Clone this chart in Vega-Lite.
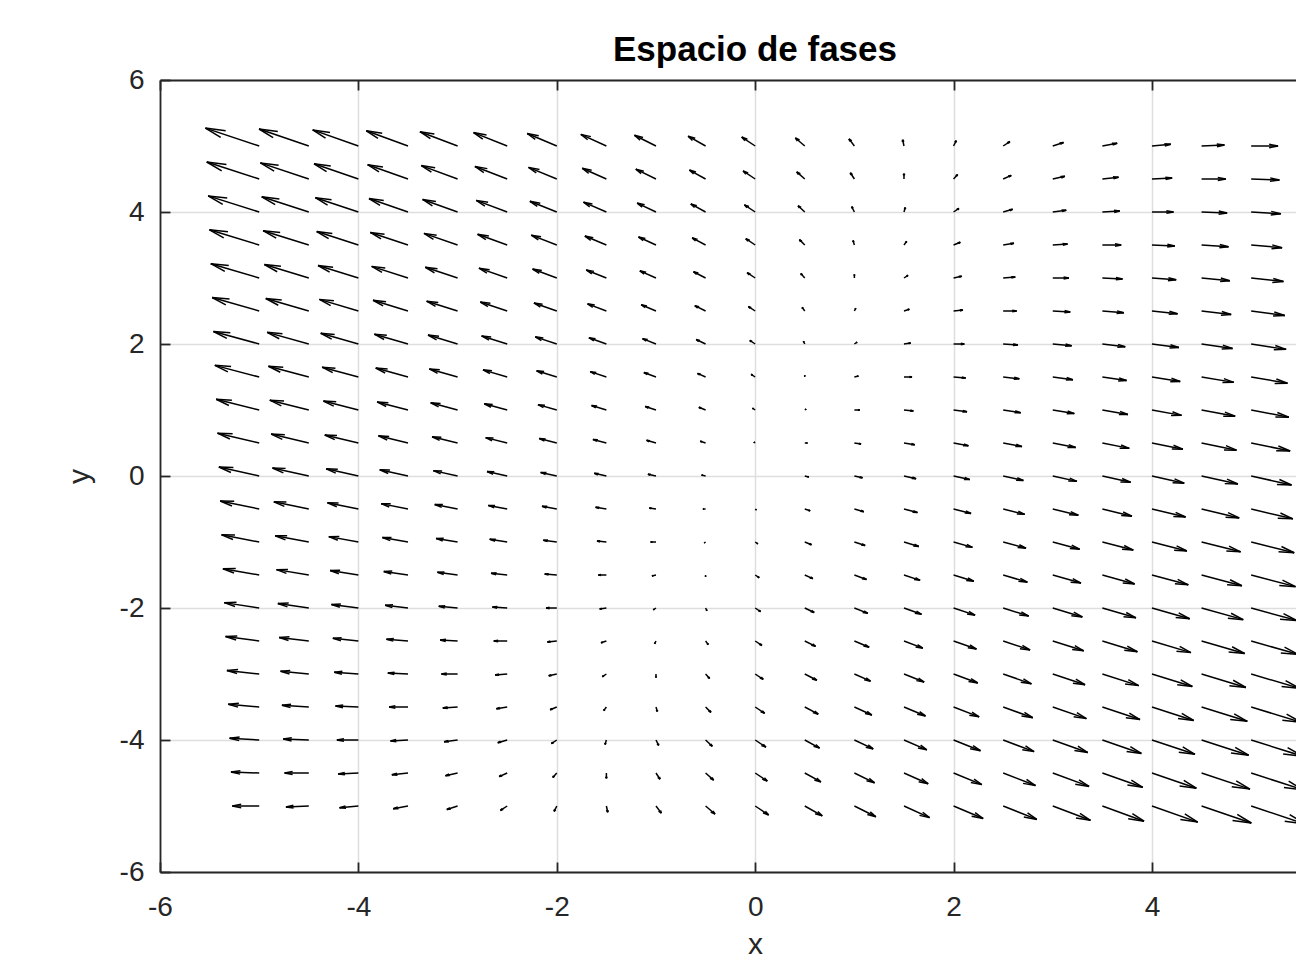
{
"$schema":"https://vega.github.io/schema/vega-lite/v6.json",
"width":1136,"height":792,
"autosize":{"type":"none"},
"padding":{"left":160,"top":80,"right":0,"bottom":88},
"background":"white",
"config":{"view":{"stroke":null},"font":"Liberation Sans"},
"title":{"text":"Espacio de fases","font":"Liberation Sans","fontSize":35,"fontWeight":"bold","color":"black","anchor":"middle","frame":"group","dx":27,"dy":47,"baseline":"alphabetic","offset":17},
"data":{"values":[
{"x":-5,"y":-5,"u":-10,"v":0},{"x":-4.5,"y":-5,"u":-8.5,"v":-0.5},{"x":-4,"y":-5,"u":-7,"v":-1},{"x":-3.5,"y":-5,"u":-5.5,"v":-1.5},{"x":-3,"y":-5,"u":-4,"v":-2},{"x":-2.5,"y":-5,"u":-2.5,"v":-2.5},{"x":-2,"y":-5,"u":-1,"v":-3},{"x":-1.5,"y":-5,"u":0.5,"v":-3.5},{"x":-1,"y":-5,"u":2,"v":-4},{"x":-0.5,"y":-5,"u":3.5,"v":-4.5},{"x":0,"y":-5,"u":5,"v":-5},{"x":0.5,"y":-5,"u":6.5,"v":-5.5},{"x":1,"y":-5,"u":8,"v":-6},{"x":1.5,"y":-5,"u":9.5,"v":-6.5},{"x":2,"y":-5,"u":11,"v":-7},{"x":2.5,"y":-5,"u":12.5,"v":-7.5},{"x":3,"y":-5,"u":14,"v":-8},{"x":3.5,"y":-5,"u":15.5,"v":-8.5},{"x":4,"y":-5,"u":17,"v":-9},{"x":4.5,"y":-5,"u":18.5,"v":-9.5},{"x":5,"y":-5,"u":20,"v":-10},
{"x":-5,"y":-4.5,"u":-10.5,"v":0.5},{"x":-4.5,"y":-4.5,"u":-9,"v":0},{"x":-4,"y":-4.5,"u":-7.5,"v":-0.5},{"x":-3.5,"y":-4.5,"u":-6,"v":-1},{"x":-3,"y":-4.5,"u":-4.5,"v":-1.5},{"x":-2.5,"y":-4.5,"u":-3,"v":-2},{"x":-2,"y":-4.5,"u":-1.5,"v":-2.5},{"x":-1.5,"y":-4.5,"u":0,"v":-3},{"x":-1,"y":-4.5,"u":1.5,"v":-3.5},{"x":-0.5,"y":-4.5,"u":3,"v":-4},{"x":0,"y":-4.5,"u":4.5,"v":-4.5},{"x":0.5,"y":-4.5,"u":6,"v":-5},{"x":1,"y":-4.5,"u":7.5,"v":-5.5},{"x":1.5,"y":-4.5,"u":9,"v":-6},{"x":2,"y":-4.5,"u":10.5,"v":-6.5},{"x":2.5,"y":-4.5,"u":12,"v":-7},{"x":3,"y":-4.5,"u":13.5,"v":-7.5},{"x":3.5,"y":-4.5,"u":15,"v":-8},{"x":4,"y":-4.5,"u":16.5,"v":-8.5},{"x":4.5,"y":-4.5,"u":18,"v":-9},{"x":5,"y":-4.5,"u":19.5,"v":-9.5},
{"x":-5,"y":-4,"u":-11,"v":1},{"x":-4.5,"y":-4,"u":-9.5,"v":0.5},{"x":-4,"y":-4,"u":-8,"v":0},{"x":-3.5,"y":-4,"u":-6.5,"v":-0.5},{"x":-3,"y":-4,"u":-5,"v":-1},{"x":-2.5,"y":-4,"u":-3.5,"v":-1.5},{"x":-2,"y":-4,"u":-2,"v":-2},{"x":-1.5,"y":-4,"u":-0.5,"v":-2.5},{"x":-1,"y":-4,"u":1,"v":-3},{"x":-0.5,"y":-4,"u":2.5,"v":-3.5},{"x":0,"y":-4,"u":4,"v":-4},{"x":0.5,"y":-4,"u":5.5,"v":-4.5},{"x":1,"y":-4,"u":7,"v":-5},{"x":1.5,"y":-4,"u":8.5,"v":-5.5},{"x":2,"y":-4,"u":10,"v":-6},{"x":2.5,"y":-4,"u":11.5,"v":-6.5},{"x":3,"y":-4,"u":13,"v":-7},{"x":3.5,"y":-4,"u":14.5,"v":-7.5},{"x":4,"y":-4,"u":16,"v":-8},{"x":4.5,"y":-4,"u":17.5,"v":-8.5},{"x":5,"y":-4,"u":19,"v":-9},
{"x":-5,"y":-3.5,"u":-11.5,"v":1.5},{"x":-4.5,"y":-3.5,"u":-10,"v":1},{"x":-4,"y":-3.5,"u":-8.5,"v":0.5},{"x":-3.5,"y":-3.5,"u":-7,"v":0},{"x":-3,"y":-3.5,"u":-5.5,"v":-0.5},{"x":-2.5,"y":-3.5,"u":-4,"v":-1},{"x":-2,"y":-3.5,"u":-2.5,"v":-1.5},{"x":-1.5,"y":-3.5,"u":-1,"v":-2},{"x":-1,"y":-3.5,"u":0.5,"v":-2.5},{"x":-0.5,"y":-3.5,"u":2,"v":-3},{"x":0,"y":-3.5,"u":3.5,"v":-3.5},{"x":0.5,"y":-3.5,"u":5,"v":-4},{"x":1,"y":-3.5,"u":6.5,"v":-4.5},{"x":1.5,"y":-3.5,"u":8,"v":-5},{"x":2,"y":-3.5,"u":9.5,"v":-5.5},{"x":2.5,"y":-3.5,"u":11,"v":-6},{"x":3,"y":-3.5,"u":12.5,"v":-6.5},{"x":3.5,"y":-3.5,"u":14,"v":-7},{"x":4,"y":-3.5,"u":15.5,"v":-7.5},{"x":4.5,"y":-3.5,"u":17,"v":-8},{"x":5,"y":-3.5,"u":18.5,"v":-8.5},
{"x":-5,"y":-3,"u":-12,"v":2},{"x":-4.5,"y":-3,"u":-10.5,"v":1.5},{"x":-4,"y":-3,"u":-9,"v":1},{"x":-3.5,"y":-3,"u":-7.5,"v":0.5},{"x":-3,"y":-3,"u":-6,"v":0},{"x":-2.5,"y":-3,"u":-4.5,"v":-0.5},{"x":-2,"y":-3,"u":-3,"v":-1},{"x":-1.5,"y":-3,"u":-1.5,"v":-1.5},{"x":-1,"y":-3,"u":0,"v":-2},{"x":-0.5,"y":-3,"u":1.5,"v":-2.5},{"x":0,"y":-3,"u":3,"v":-3},{"x":0.5,"y":-3,"u":4.5,"v":-3.5},{"x":1,"y":-3,"u":6,"v":-4},{"x":1.5,"y":-3,"u":7.5,"v":-4.5},{"x":2,"y":-3,"u":9,"v":-5},{"x":2.5,"y":-3,"u":10.5,"v":-5.5},{"x":3,"y":-3,"u":12,"v":-6},{"x":3.5,"y":-3,"u":13.5,"v":-6.5},{"x":4,"y":-3,"u":15,"v":-7},{"x":4.5,"y":-3,"u":16.5,"v":-7.5},{"x":5,"y":-3,"u":18,"v":-8},
{"x":-5,"y":-2.5,"u":-12.5,"v":2.5},{"x":-4.5,"y":-2.5,"u":-11,"v":2},{"x":-4,"y":-2.5,"u":-9.5,"v":1.5},{"x":-3.5,"y":-2.5,"u":-8,"v":1},{"x":-3,"y":-2.5,"u":-6.5,"v":0.5},{"x":-2.5,"y":-2.5,"u":-5,"v":0},{"x":-2,"y":-2.5,"u":-3.5,"v":-0.5},{"x":-1.5,"y":-2.5,"u":-2,"v":-1},{"x":-1,"y":-2.5,"u":-0.5,"v":-1.5},{"x":-0.5,"y":-2.5,"u":1,"v":-2},{"x":0,"y":-2.5,"u":2.5,"v":-2.5},{"x":0.5,"y":-2.5,"u":4,"v":-3},{"x":1,"y":-2.5,"u":5.5,"v":-3.5},{"x":1.5,"y":-2.5,"u":7,"v":-4},{"x":2,"y":-2.5,"u":8.5,"v":-4.5},{"x":2.5,"y":-2.5,"u":10,"v":-5},{"x":3,"y":-2.5,"u":11.5,"v":-5.5},{"x":3.5,"y":-2.5,"u":13,"v":-6},{"x":4,"y":-2.5,"u":14.5,"v":-6.5},{"x":4.5,"y":-2.5,"u":16,"v":-7},{"x":5,"y":-2.5,"u":17.5,"v":-7.5},
{"x":-5,"y":-2,"u":-13,"v":3},{"x":-4.5,"y":-2,"u":-11.5,"v":2.5},{"x":-4,"y":-2,"u":-10,"v":2},{"x":-3.5,"y":-2,"u":-8.5,"v":1.5},{"x":-3,"y":-2,"u":-7,"v":1},{"x":-2.5,"y":-2,"u":-5.5,"v":0.5},{"x":-2,"y":-2,"u":-4,"v":0},{"x":-1.5,"y":-2,"u":-2.5,"v":-0.5},{"x":-1,"y":-2,"u":-1,"v":-1},{"x":-0.5,"y":-2,"u":0.5,"v":-1.5},{"x":0,"y":-2,"u":2,"v":-2},{"x":0.5,"y":-2,"u":3.5,"v":-2.5},{"x":1,"y":-2,"u":5,"v":-3},{"x":1.5,"y":-2,"u":6.5,"v":-3.5},{"x":2,"y":-2,"u":8,"v":-4},{"x":2.5,"y":-2,"u":9.5,"v":-4.5},{"x":3,"y":-2,"u":11,"v":-5},{"x":3.5,"y":-2,"u":12.5,"v":-5.5},{"x":4,"y":-2,"u":14,"v":-6},{"x":4.5,"y":-2,"u":15.5,"v":-6.5},{"x":5,"y":-2,"u":17,"v":-7},
{"x":-5,"y":-1.5,"u":-13.5,"v":3.5},{"x":-4.5,"y":-1.5,"u":-12,"v":3},{"x":-4,"y":-1.5,"u":-10.5,"v":2.5},{"x":-3.5,"y":-1.5,"u":-9,"v":2},{"x":-3,"y":-1.5,"u":-7.5,"v":1.5},{"x":-2.5,"y":-1.5,"u":-6,"v":1},{"x":-2,"y":-1.5,"u":-4.5,"v":0.5},{"x":-1.5,"y":-1.5,"u":-3,"v":0},{"x":-1,"y":-1.5,"u":-1.5,"v":-0.5},{"x":-0.5,"y":-1.5,"u":0,"v":-1},{"x":0,"y":-1.5,"u":1.5,"v":-1.5},{"x":0.5,"y":-1.5,"u":3,"v":-2},{"x":1,"y":-1.5,"u":4.5,"v":-2.5},{"x":1.5,"y":-1.5,"u":6,"v":-3},{"x":2,"y":-1.5,"u":7.5,"v":-3.5},{"x":2.5,"y":-1.5,"u":9,"v":-4},{"x":3,"y":-1.5,"u":10.5,"v":-4.5},{"x":3.5,"y":-1.5,"u":12,"v":-5},{"x":4,"y":-1.5,"u":13.5,"v":-5.5},{"x":4.5,"y":-1.5,"u":15,"v":-6},{"x":5,"y":-1.5,"u":16.5,"v":-6.5},
{"x":-5,"y":-1,"u":-14,"v":4},{"x":-4.5,"y":-1,"u":-12.5,"v":3.5},{"x":-4,"y":-1,"u":-11,"v":3},{"x":-3.5,"y":-1,"u":-9.5,"v":2.5},{"x":-3,"y":-1,"u":-8,"v":2},{"x":-2.5,"y":-1,"u":-6.5,"v":1.5},{"x":-2,"y":-1,"u":-5,"v":1},{"x":-1.5,"y":-1,"u":-3.5,"v":0.5},{"x":-1,"y":-1,"u":-2,"v":0},{"x":-0.5,"y":-1,"u":-0.5,"v":-0.5},{"x":0,"y":-1,"u":1,"v":-1},{"x":0.5,"y":-1,"u":2.5,"v":-1.5},{"x":1,"y":-1,"u":4,"v":-2},{"x":1.5,"y":-1,"u":5.5,"v":-2.5},{"x":2,"y":-1,"u":7,"v":-3},{"x":2.5,"y":-1,"u":8.5,"v":-3.5},{"x":3,"y":-1,"u":10,"v":-4},{"x":3.5,"y":-1,"u":11.5,"v":-4.5},{"x":4,"y":-1,"u":13,"v":-5},{"x":4.5,"y":-1,"u":14.5,"v":-5.5},{"x":5,"y":-1,"u":16,"v":-6},
{"x":-5,"y":-0.5,"u":-14.5,"v":4.5},{"x":-4.5,"y":-0.5,"u":-13,"v":4},{"x":-4,"y":-0.5,"u":-11.5,"v":3.5},{"x":-3.5,"y":-0.5,"u":-10,"v":3},{"x":-3,"y":-0.5,"u":-8.5,"v":2.5},{"x":-2.5,"y":-0.5,"u":-7,"v":2},{"x":-2,"y":-0.5,"u":-5.5,"v":1.5},{"x":-1.5,"y":-0.5,"u":-4,"v":1},{"x":-1,"y":-0.5,"u":-2.5,"v":0.5},{"x":-0.5,"y":-0.5,"u":-1,"v":0},{"x":0,"y":-0.5,"u":0.5,"v":-0.5},{"x":0.5,"y":-0.5,"u":2,"v":-1},{"x":1,"y":-0.5,"u":3.5,"v":-1.5},{"x":1.5,"y":-0.5,"u":5,"v":-2},{"x":2,"y":-0.5,"u":6.5,"v":-2.5},{"x":2.5,"y":-0.5,"u":8,"v":-3},{"x":3,"y":-0.5,"u":9.5,"v":-3.5},{"x":3.5,"y":-0.5,"u":11,"v":-4},{"x":4,"y":-0.5,"u":12.5,"v":-4.5},{"x":4.5,"y":-0.5,"u":14,"v":-5},{"x":5,"y":-0.5,"u":15.5,"v":-5.5},
{"x":-5,"y":0,"u":-15,"v":5},{"x":-4.5,"y":0,"u":-13.5,"v":4.5},{"x":-4,"y":0,"u":-12,"v":4},{"x":-3.5,"y":0,"u":-10.5,"v":3.5},{"x":-3,"y":0,"u":-9,"v":3},{"x":-2.5,"y":0,"u":-7.5,"v":2.5},{"x":-2,"y":0,"u":-6,"v":2},{"x":-1.5,"y":0,"u":-4.5,"v":1.5},{"x":-1,"y":0,"u":-3,"v":1},{"x":-0.5,"y":0,"u":-1.5,"v":0.5},{"x":0,"y":0,"u":0,"v":0},{"x":0.5,"y":0,"u":1.5,"v":-0.5},{"x":1,"y":0,"u":3,"v":-1},{"x":1.5,"y":0,"u":4.5,"v":-1.5},{"x":2,"y":0,"u":6,"v":-2},{"x":2.5,"y":0,"u":7.5,"v":-2.5},{"x":3,"y":0,"u":9,"v":-3},{"x":3.5,"y":0,"u":10.5,"v":-3.5},{"x":4,"y":0,"u":12,"v":-4},{"x":4.5,"y":0,"u":13.5,"v":-4.5},{"x":5,"y":0,"u":15,"v":-5},
{"x":-5,"y":0.5,"u":-15.5,"v":5.5},{"x":-4.5,"y":0.5,"u":-14,"v":5},{"x":-4,"y":0.5,"u":-12.5,"v":4.5},{"x":-3.5,"y":0.5,"u":-11,"v":4},{"x":-3,"y":0.5,"u":-9.5,"v":3.5},{"x":-2.5,"y":0.5,"u":-8,"v":3},{"x":-2,"y":0.5,"u":-6.5,"v":2.5},{"x":-1.5,"y":0.5,"u":-5,"v":2},{"x":-1,"y":0.5,"u":-3.5,"v":1.5},{"x":-0.5,"y":0.5,"u":-2,"v":1},{"x":0,"y":0.5,"u":-0.5,"v":0.5},{"x":0.5,"y":0.5,"u":1,"v":0},{"x":1,"y":0.5,"u":2.5,"v":-0.5},{"x":1.5,"y":0.5,"u":4,"v":-1},{"x":2,"y":0.5,"u":5.5,"v":-1.5},{"x":2.5,"y":0.5,"u":7,"v":-2},{"x":3,"y":0.5,"u":8.5,"v":-2.5},{"x":3.5,"y":0.5,"u":10,"v":-3},{"x":4,"y":0.5,"u":11.5,"v":-3.5},{"x":4.5,"y":0.5,"u":13,"v":-4},{"x":5,"y":0.5,"u":14.5,"v":-4.5},
{"x":-5,"y":1,"u":-16,"v":6},{"x":-4.5,"y":1,"u":-14.5,"v":5.5},{"x":-4,"y":1,"u":-13,"v":5},{"x":-3.5,"y":1,"u":-11.5,"v":4.5},{"x":-3,"y":1,"u":-10,"v":4},{"x":-2.5,"y":1,"u":-8.5,"v":3.5},{"x":-2,"y":1,"u":-7,"v":3},{"x":-1.5,"y":1,"u":-5.5,"v":2.5},{"x":-1,"y":1,"u":-4,"v":2},{"x":-0.5,"y":1,"u":-2.5,"v":1.5},{"x":0,"y":1,"u":-1,"v":1},{"x":0.5,"y":1,"u":0.5,"v":0.5},{"x":1,"y":1,"u":2,"v":0},{"x":1.5,"y":1,"u":3.5,"v":-0.5},{"x":2,"y":1,"u":5,"v":-1},{"x":2.5,"y":1,"u":6.5,"v":-1.5},{"x":3,"y":1,"u":8,"v":-2},{"x":3.5,"y":1,"u":9.5,"v":-2.5},{"x":4,"y":1,"u":11,"v":-3},{"x":4.5,"y":1,"u":12.5,"v":-3.5},{"x":5,"y":1,"u":14,"v":-4},
{"x":-5,"y":1.5,"u":-16.5,"v":6.5},{"x":-4.5,"y":1.5,"u":-15,"v":6},{"x":-4,"y":1.5,"u":-13.5,"v":5.5},{"x":-3.5,"y":1.5,"u":-12,"v":5},{"x":-3,"y":1.5,"u":-10.5,"v":4.5},{"x":-2.5,"y":1.5,"u":-9,"v":4},{"x":-2,"y":1.5,"u":-7.5,"v":3.5},{"x":-1.5,"y":1.5,"u":-6,"v":3},{"x":-1,"y":1.5,"u":-4.5,"v":2.5},{"x":-0.5,"y":1.5,"u":-3,"v":2},{"x":0,"y":1.5,"u":-1.5,"v":1.5},{"x":0.5,"y":1.5,"u":0,"v":1},{"x":1,"y":1.5,"u":1.5,"v":0.5},{"x":1.5,"y":1.5,"u":3,"v":0},{"x":2,"y":1.5,"u":4.5,"v":-0.5},{"x":2.5,"y":1.5,"u":6,"v":-1},{"x":3,"y":1.5,"u":7.5,"v":-1.5},{"x":3.5,"y":1.5,"u":9,"v":-2},{"x":4,"y":1.5,"u":10.5,"v":-2.5},{"x":4.5,"y":1.5,"u":12,"v":-3},{"x":5,"y":1.5,"u":13.5,"v":-3.5},
{"x":-5,"y":2,"u":-17,"v":7},{"x":-4.5,"y":2,"u":-15.5,"v":6.5},{"x":-4,"y":2,"u":-14,"v":6},{"x":-3.5,"y":2,"u":-12.5,"v":5.5},{"x":-3,"y":2,"u":-11,"v":5},{"x":-2.5,"y":2,"u":-9.5,"v":4.5},{"x":-2,"y":2,"u":-8,"v":4},{"x":-1.5,"y":2,"u":-6.5,"v":3.5},{"x":-1,"y":2,"u":-5,"v":3},{"x":-0.5,"y":2,"u":-3.5,"v":2.5},{"x":0,"y":2,"u":-2,"v":2},{"x":0.5,"y":2,"u":-0.5,"v":1.5},{"x":1,"y":2,"u":1,"v":1},{"x":1.5,"y":2,"u":2.5,"v":0.5},{"x":2,"y":2,"u":4,"v":0},{"x":2.5,"y":2,"u":5.5,"v":-0.5},{"x":3,"y":2,"u":7,"v":-1},{"x":3.5,"y":2,"u":8.5,"v":-1.5},{"x":4,"y":2,"u":10,"v":-2},{"x":4.5,"y":2,"u":11.5,"v":-2.5},{"x":5,"y":2,"u":13,"v":-3},
{"x":-5,"y":2.5,"u":-17.5,"v":7.5},{"x":-4.5,"y":2.5,"u":-16,"v":7},{"x":-4,"y":2.5,"u":-14.5,"v":6.5},{"x":-3.5,"y":2.5,"u":-13,"v":6},{"x":-3,"y":2.5,"u":-11.5,"v":5.5},{"x":-2.5,"y":2.5,"u":-10,"v":5},{"x":-2,"y":2.5,"u":-8.5,"v":4.5},{"x":-1.5,"y":2.5,"u":-7,"v":4},{"x":-1,"y":2.5,"u":-5.5,"v":3.5},{"x":-0.5,"y":2.5,"u":-4,"v":3},{"x":0,"y":2.5,"u":-2.5,"v":2.5},{"x":0.5,"y":2.5,"u":-1,"v":2},{"x":1,"y":2.5,"u":0.5,"v":1.5},{"x":1.5,"y":2.5,"u":2,"v":1},{"x":2,"y":2.5,"u":3.5,"v":0.5},{"x":2.5,"y":2.5,"u":5,"v":0},{"x":3,"y":2.5,"u":6.5,"v":-0.5},{"x":3.5,"y":2.5,"u":8,"v":-1},{"x":4,"y":2.5,"u":9.5,"v":-1.5},{"x":4.5,"y":2.5,"u":11,"v":-2},{"x":5,"y":2.5,"u":12.5,"v":-2.5},
{"x":-5,"y":3,"u":-18,"v":8},{"x":-4.5,"y":3,"u":-16.5,"v":7.5},{"x":-4,"y":3,"u":-15,"v":7},{"x":-3.5,"y":3,"u":-13.5,"v":6.5},{"x":-3,"y":3,"u":-12,"v":6},{"x":-2.5,"y":3,"u":-10.5,"v":5.5},{"x":-2,"y":3,"u":-9,"v":5},{"x":-1.5,"y":3,"u":-7.5,"v":4.5},{"x":-1,"y":3,"u":-6,"v":4},{"x":-0.5,"y":3,"u":-4.5,"v":3.5},{"x":0,"y":3,"u":-3,"v":3},{"x":0.5,"y":3,"u":-1.5,"v":2.5},{"x":1,"y":3,"u":0,"v":2},{"x":1.5,"y":3,"u":1.5,"v":1.5},{"x":2,"y":3,"u":3,"v":1},{"x":2.5,"y":3,"u":4.5,"v":0.5},{"x":3,"y":3,"u":6,"v":0},{"x":3.5,"y":3,"u":7.5,"v":-0.5},{"x":4,"y":3,"u":9,"v":-1},{"x":4.5,"y":3,"u":10.5,"v":-1.5},{"x":5,"y":3,"u":12,"v":-2},
{"x":-5,"y":3.5,"u":-18.5,"v":8.5},{"x":-4.5,"y":3.5,"u":-17,"v":8},{"x":-4,"y":3.5,"u":-15.5,"v":7.5},{"x":-3.5,"y":3.5,"u":-14,"v":7},{"x":-3,"y":3.5,"u":-12.5,"v":6.5},{"x":-2.5,"y":3.5,"u":-11,"v":6},{"x":-2,"y":3.5,"u":-9.5,"v":5.5},{"x":-1.5,"y":3.5,"u":-8,"v":5},{"x":-1,"y":3.5,"u":-6.5,"v":4.5},{"x":-0.5,"y":3.5,"u":-5,"v":4},{"x":0,"y":3.5,"u":-3.5,"v":3.5},{"x":0.5,"y":3.5,"u":-2,"v":3},{"x":1,"y":3.5,"u":-0.5,"v":2.5},{"x":1.5,"y":3.5,"u":1,"v":2},{"x":2,"y":3.5,"u":2.5,"v":1.5},{"x":2.5,"y":3.5,"u":4,"v":1},{"x":3,"y":3.5,"u":5.5,"v":0.5},{"x":3.5,"y":3.5,"u":7,"v":0},{"x":4,"y":3.5,"u":8.5,"v":-0.5},{"x":4.5,"y":3.5,"u":10,"v":-1},{"x":5,"y":3.5,"u":11.5,"v":-1.5},
{"x":-5,"y":4,"u":-19,"v":9},{"x":-4.5,"y":4,"u":-17.5,"v":8.5},{"x":-4,"y":4,"u":-16,"v":8},{"x":-3.5,"y":4,"u":-14.5,"v":7.5},{"x":-3,"y":4,"u":-13,"v":7},{"x":-2.5,"y":4,"u":-11.5,"v":6.5},{"x":-2,"y":4,"u":-10,"v":6},{"x":-1.5,"y":4,"u":-8.5,"v":5.5},{"x":-1,"y":4,"u":-7,"v":5},{"x":-0.5,"y":4,"u":-5.5,"v":4.5},{"x":0,"y":4,"u":-4,"v":4},{"x":0.5,"y":4,"u":-2.5,"v":3.5},{"x":1,"y":4,"u":-1,"v":3},{"x":1.5,"y":4,"u":0.5,"v":2.5},{"x":2,"y":4,"u":2,"v":2},{"x":2.5,"y":4,"u":3.5,"v":1.5},{"x":3,"y":4,"u":5,"v":1},{"x":3.5,"y":4,"u":6.5,"v":0.5},{"x":4,"y":4,"u":8,"v":0},{"x":4.5,"y":4,"u":9.5,"v":-0.5},{"x":5,"y":4,"u":11,"v":-1},
{"x":-5,"y":4.5,"u":-19.5,"v":9.5},{"x":-4.5,"y":4.5,"u":-18,"v":9},{"x":-4,"y":4.5,"u":-16.5,"v":8.5},{"x":-3.5,"y":4.5,"u":-15,"v":8},{"x":-3,"y":4.5,"u":-13.5,"v":7.5},{"x":-2.5,"y":4.5,"u":-12,"v":7},{"x":-2,"y":4.5,"u":-10.5,"v":6.5},{"x":-1.5,"y":4.5,"u":-9,"v":6},{"x":-1,"y":4.5,"u":-7.5,"v":5.5},{"x":-0.5,"y":4.5,"u":-6,"v":5},{"x":0,"y":4.5,"u":-4.5,"v":4.5},{"x":0.5,"y":4.5,"u":-3,"v":4},{"x":1,"y":4.5,"u":-1.5,"v":3.5},{"x":1.5,"y":4.5,"u":0,"v":3},{"x":2,"y":4.5,"u":1.5,"v":2.5},{"x":2.5,"y":4.5,"u":3,"v":2},{"x":3,"y":4.5,"u":4.5,"v":1.5},{"x":3.5,"y":4.5,"u":6,"v":1},{"x":4,"y":4.5,"u":7.5,"v":0.5},{"x":4.5,"y":4.5,"u":9,"v":0},{"x":5,"y":4.5,"u":10.5,"v":-0.5},
{"x":-5,"y":5,"u":-20,"v":10},{"x":-4.5,"y":5,"u":-18.5,"v":9.5},{"x":-4,"y":5,"u":-17,"v":9},{"x":-3.5,"y":5,"u":-15.5,"v":8.5},{"x":-3,"y":5,"u":-14,"v":8},{"x":-2.5,"y":5,"u":-12.5,"v":7.5},{"x":-2,"y":5,"u":-11,"v":7},{"x":-1.5,"y":5,"u":-9.5,"v":6.5},{"x":-1,"y":5,"u":-8,"v":6},{"x":-0.5,"y":5,"u":-6.5,"v":5.5},{"x":0,"y":5,"u":-5,"v":5},{"x":0.5,"y":5,"u":-3.5,"v":4.5},{"x":1,"y":5,"u":-2,"v":4},{"x":1.5,"y":5,"u":-0.5,"v":3.5},{"x":2,"y":5,"u":1,"v":3},{"x":2.5,"y":5,"u":2.5,"v":2.5},{"x":3,"y":5,"u":4,"v":2},{"x":3.5,"y":5,"u":5.5,"v":1.5},{"x":4,"y":5,"u":7,"v":1},{"x":4.5,"y":5,"u":8.5,"v":0.5},{"x":5,"y":5,"u":10,"v":0}
]},
"transform":[
{"calculate":"datum.x+0.027105*datum.u","as":"xe"},
{"calculate":"datum.y+0.027105*datum.v","as":"ye"},
{"calculate":"datum.xe-0.33*0.027105*(datum.u+0.28*datum.v)","as":"h1x"},
{"calculate":"datum.ye-0.33*0.027105*(datum.v-0.28*datum.u)","as":"h1y"},
{"calculate":"datum.xe-0.33*0.027105*(datum.u-0.28*datum.v)","as":"h2x"},
{"calculate":"datum.ye-0.33*0.027105*(datum.v+0.28*datum.u)","as":"h2y"}
],
"layer":[
{"mark":{"type":"rule","color":"black","strokeWidth":1.5},
 "encoding":{
  "x":{"field":"x","type":"quantitative","scale":{"domain":[-6,5.452],"nice":false,"zero":false},
   "axis":{"orient":"bottom","values":[-6,-4,-2,0,2,4],"labelExpr":"''+datum.value","grid":true,"gridColor":"#dedede","gridWidth":1.5,"domainColor":"#262626","domainWidth":1.8,"tickColor":"#262626","tickWidth":1.8,"tickSize":-10,"labelFont":"Liberation Sans","labelFontSize":28,"labelColor":"#262626","labelPadding":31,"labelFlush":false,"labelOverlap":false,"title":"x","titleFont":"Liberation Sans","titleFontSize":30,"titleFontWeight":"normal","titleColor":"#262626","titleX":595,"titleY":81,"titleBaseline":"alphabetic","titleAlign":"center"}},
  "y":{"field":"y","type":"quantitative","scale":{"domain":[-6,6],"nice":false,"zero":false},
   "axis":{"orient":"left","values":[-6,-4,-2,0,2,4,6],"labelExpr":"''+datum.value","grid":true,"gridColor":"#dedede","gridWidth":1.5,"domainColor":"#262626","domainWidth":1.8,"tickColor":"#262626","tickWidth":1.8,"tickSize":-10,"labelFont":"Liberation Sans","labelFontSize":28,"labelColor":"#262626","labelPadding":26,"labelFlush":false,"labelOverlap":false,"title":"y","titleFont":"Liberation Sans","titleFontSize":30,"titleFontWeight":"normal","titleColor":"#262626","titleAngle":270,"titleX":-72,"titleY":396,"titleBaseline":"alphabetic","titleAlign":"center"}},
  "x2":{"field":"xe"},"y2":{"field":"ye"}}},
{"mark":{"type":"rule","color":"black","strokeWidth":1.5},
 "encoding":{
  "x":{"field":"xe","type":"quantitative","scale":{"domain":[-6,5.452],"nice":false,"zero":false},
   "axis":{"orient":"top","values":[-6,-4,-2,0,2,4],"labels":false,"grid":false,"domainColor":"#262626","domainWidth":1.8,"tickColor":"#262626","tickWidth":1.8,"tickSize":-10,"title":null}},
  "y":{"field":"ye","type":"quantitative","scale":{"domain":[-6,6],"nice":false,"zero":false},"axis":null},
  "x2":{"field":"h1x"},"y2":{"field":"h1y"}}},
{"mark":{"type":"rule","color":"black","strokeWidth":1.5},
 "encoding":{
  "x":{"field":"xe","type":"quantitative","scale":{"domain":[-6,5.452],"nice":false,"zero":false},"axis":null},
  "y":{"field":"ye","type":"quantitative","scale":{"domain":[-6,6],"nice":false,"zero":false},"axis":null},
  "x2":{"field":"h2x"},"y2":{"field":"h2y"}}}
],
"resolve":{"axis":{"x":"independent","y":"independent"}}
}
